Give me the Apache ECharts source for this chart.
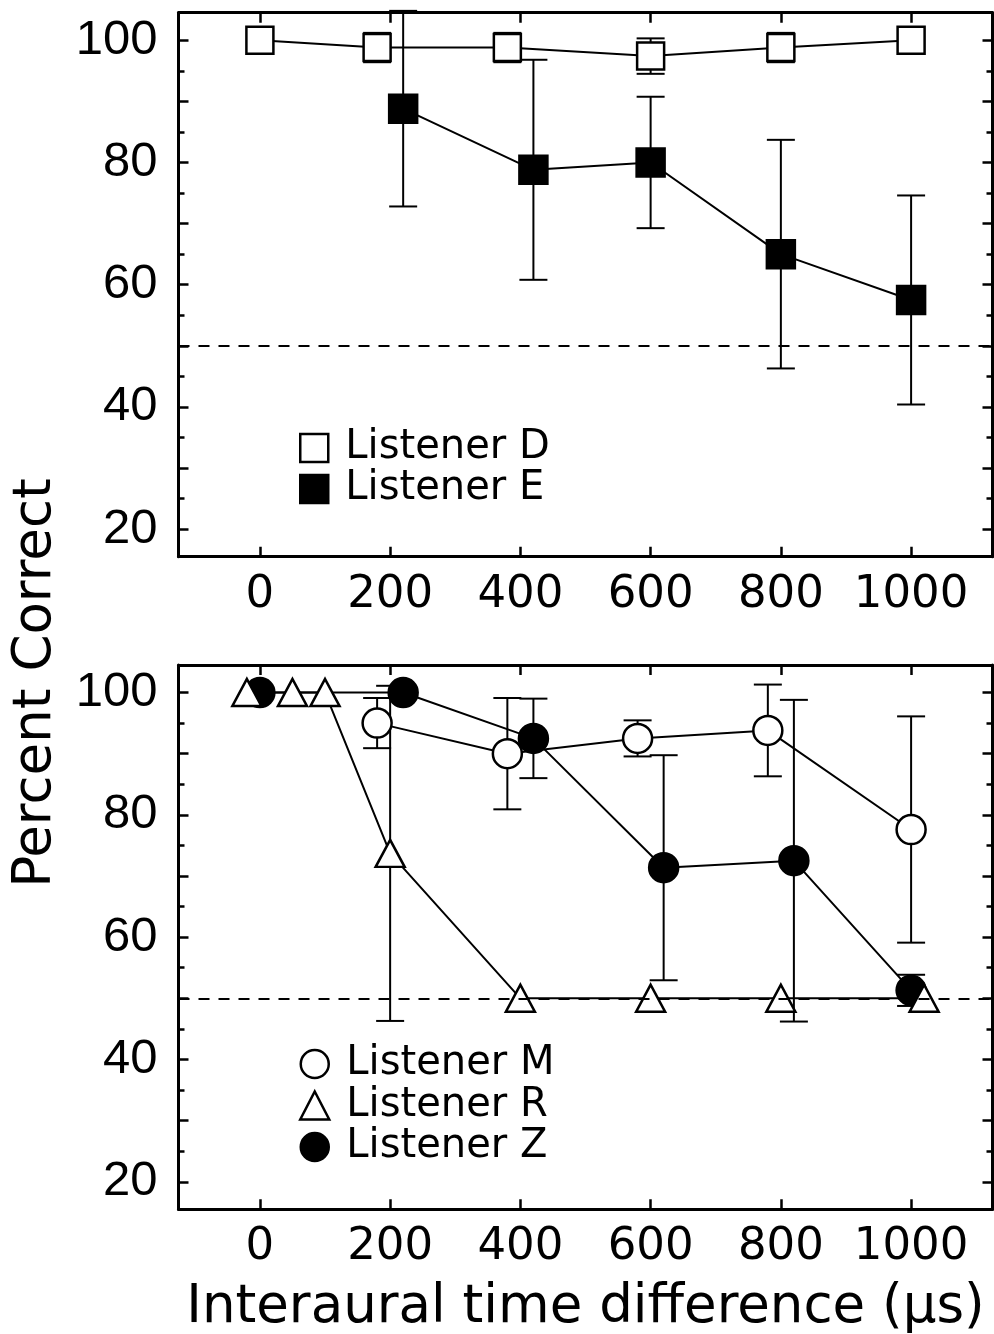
<!DOCTYPE html>
<html>
<head>
<meta charset="utf-8">
<script src="https://cdn.jsdelivr.net/npm/echarts@6/dist/echarts.min.js"></script>
<style>
  html, body { margin: 0; padding: 0; background: #fff; }
  #chart { width: 994px; height: 1334px; }
</style>
</head>
<body>
<div id="chart"></div>
<script>
// Percent correct vs. interaural time difference, mean ± error per listener.

// Upper panel
const itdD = [0, 180, 380, 600, 800, 1000];
const pctD = [100, 98.8, 98.8, 97.4, 98.8, 100];
const errD = [0, 2.4, 2.4, 2.9, 2.4, 0];

const itdE = [220, 420, 600, 800, 1000];
const pctE = [88.8, 78.8, 80, 65, 57.5];
const errE = [16, 18, 10.75, 18.7, 17.1];

// Lower panel
const itdM = [180, 380, 580, 780, 1000];
const pctM = [95, 90, 92.5, 93.8, 77.6];
const errM = [4.1, 9.1, 2.95, 7.5, 18.5];

const itdZ = [0, 220, 420, 620, 820, 1000];
const pctZ = [100, 100, 92.5, 71.35, 72.5, 51.3];
const errZ = [0, 0, 6.5, 18.4, 26.3, 2.55];

const itdR = [-20, 50, 100, 200, 400, 600, 800, 1020];
const pctR = [100, 100, 100, 73.7, 50, 50, 50, 50];
const errR = [0, 0, 0, 27.4, 0, 0, 0, 0];

// Chance performance
const CHANCE = 50;

// Axis ranges and tick positions
const X_RANGE = [-125, 1125];
const Y_RANGE = [15.5, 104.5];
const xTicks = [0, 200, 400, 600, 800, 1000];
const yMajorTicks = [20, 30, 40, 50, 60, 70, 80, 90, 100];
const yMinorTicks = [25, 35, 45, 55, 65, 75, 85, 95];
const yTickLabels = [20, 40, 60, 80, 100];

const INK = '#000';
const TEXT_FONT = 'DejaVu Sans';
const NUM_FONT_Y = "'Liberation Sans Narrow', 'Liberation Sans', sans-serif";

function pairs(xs, ys) { return xs.map((x, i) => [x, ys[i]]); }
function bars(xs, ys, es) {
  const out = [];
  xs.forEach((x, i) => { if (es[i] > 0) out.push([x, ys[i] - es[i], ys[i] + es[i]]); });
  return out;
}

function renderErrorBar(params, api) {
  const x = api.value(0);
  const lo = api.coord([x, api.value(1)]);
  const hi = api.coord([x, api.value(2)]);
  const half = 14;
  const style = { stroke: INK, lineWidth: 2, fill: null };
  return {
    type: 'group',
    children: [
      { type: 'line', shape: { x1: hi[0], y1: hi[1], x2: lo[0], y2: lo[1] }, style },
      { type: 'line', shape: { x1: hi[0] - half, y1: hi[1], x2: hi[0] + half, y2: hi[1] }, style },
      { type: 'line', shape: { x1: lo[0] - half, y1: lo[1], x2: lo[0] + half, y2: lo[1] }, style }
    ]
  };
}

const grids = [
  { left: 178.5, top: 12.7, width: 814, height: 544 },
  { left: 178.5, top: 665, width: 814, height: 544.3 }
].map(g => Object.assign(g, { show: false, containLabel: false, outerBoundsMode: 'none' }));

const tickLine = { color: INK, width: 2.5 };
const frameLine = { show: true, onZero: false, lineStyle: { color: INK, width: 3 } };
const noLine = { show: false, onZero: false };
const plainNumber = v => String(v);

function xAxesFor(g, name) {
  const base = {
    type: 'value', gridIndex: g, min: X_RANGE[0], max: X_RANGE[1],
    splitLine: { show: false }, axisLine: frameLine
  };
  const bottom = Object.assign({}, base, {
    position: 'bottom',
    axisTick: { show: true, inside: true, length: 10, customValues: xTicks, lineStyle: tickLine },
    axisLabel: {
      show: true, customValues: xTicks, formatter: plainNumber, margin: 16,
      fontSize: 45, fontFamily: TEXT_FONT, color: INK
    }
  });
  if (name) {
    Object.assign(bottom, {
      name: name, nameLocation: 'middle', nameGap: 72,
      nameTextStyle: { fontSize: 53, fontFamily: TEXT_FONT, color: INK }
    });
  }
  const top = Object.assign({}, base, {
    position: 'top',
    axisTick: { show: true, inside: true, length: 10, customValues: xTicks, lineStyle: tickLine },
    axisLabel: { show: false }
  });
  return [bottom, top];
}

function yAxesFor(g) {
  const base = {
    type: 'value', gridIndex: g, min: Y_RANGE[0], max: Y_RANGE[1],
    splitLine: { show: false }
  };
  const out = [];
  ['left', 'right'].forEach(pos => {
    out.push(Object.assign({}, base, {
      position: pos, axisLine: frameLine,
      axisTick: { show: true, inside: true, length: 10, customValues: yMajorTicks, lineStyle: tickLine },
      axisLabel: pos === 'left'
        ? {
            show: true, customValues: yTickLabels, formatter: plainNumber, margin: 21,
            fontSize: 49, fontFamily: NUM_FONT_Y, color: INK
          }
        : { show: false }
    }));
    out.push(Object.assign({}, base, {
      position: pos, axisLine: noLine,
      axisTick: { show: true, inside: true, length: 6, customValues: yMinorTicks, lineStyle: tickLine },
      axisLabel: { show: false }
    }));
  });
  return out;
}

const xAxes = xAxesFor(0, null).concat(xAxesFor(1, 'Interaural time difference (\u03bcs)'));
const yAxes = yAxesFor(0).concat(yAxesFor(1));
// indices: grid 0 -> x 0, y 0 ; grid 1 -> x 2, y 4

const openStyle = { color: '#fff', borderColor: INK, borderWidth: 2.5 };
const filledStyle = { color: INK, borderColor: INK, borderWidth: 2.5 };

function lineSeries(name, xs, ys, symbol, size, style, panel, extra) {
  return Object.assign({
    name: name, type: 'line', data: pairs(xs, ys),
    xAxisIndex: panel === 0 ? 0 : 2, yAxisIndex: panel === 0 ? 0 : 4,
    symbol: symbol, symbolSize: size, showSymbol: true, showAllSymbol: true,
    itemStyle: style, lineStyle: { color: INK, width: 2 },
    emphasis: { disabled: true }, silent: true, z: 3, clip: false
  }, extra || {});
}

function errSeries(name, xs, ys, es, panel) {
  return {
    name: name, type: 'custom', renderItem: renderErrorBar,
    data: bars(xs, ys, es), encode: { x: 0, y: [1, 2] },
    xAxisIndex: panel === 0 ? 0 : 2, yAxisIndex: panel === 0 ? 0 : 4,
    silent: true, z: 2, clip: false
  };
}

const chanceLine = {
  markLine: {
    silent: true, symbol: ['none', 'none'], animation: false,
    label: { show: false },
    lineStyle: { color: INK, width: 2, type: [11, 9] },
    data: [{ yAxis: CHANCE }]
  }
};

const series = [
  errSeries('Listener E', itdE, pctE, errE, 0),
  errSeries('Listener D', itdD, pctD, errD, 0),
  lineSeries('Listener E', itdE, pctE, 'rect', 28, filledStyle, 0, chanceLine),
  lineSeries('Listener D', itdD, pctD, 'rect', 27, openStyle, 0),

  errSeries('Listener M', itdM, pctM, errM, 1),
  errSeries('Listener Z', itdZ, pctZ, errZ, 1),
  errSeries('Listener R', itdR, pctR, errR, 1),
  lineSeries('Listener M', itdM, pctM, 'circle', 29, openStyle, 1, chanceLine),
  lineSeries('Listener Z', itdZ, pctZ, 'circle', 29, filledStyle, 1),
  lineSeries('Listener R', itdR, pctR, 'triangle', [29, 27], openStyle, 1)
];

const legendText = {
  fontSize: 40, fontFamily: TEXT_FONT, color: INK, padding: [0, 0, 0, 12]
};

const option = {
  animation: false,
  backgroundColor: '#fff',
  grid: grids,
  xAxis: xAxes,
  yAxis: yAxes,
  legend: [
    {
      left: 294, top: 423, orient: 'vertical', itemWidth: 28, itemHeight: 28, itemGap: 1,
      selectedMode: false, textStyle: legendText,
      data: [
        { name: 'Listener D', icon: 'rect', itemStyle: openStyle },
        { name: 'Listener E', icon: 'rect', itemStyle: filledStyle }
      ]
    },
    {
      left: 294, top: 1039, orient: 'vertical', itemWidth: 29, itemHeight: 28, itemGap: 1.5,
      selectedMode: false, textStyle: legendText,
      data: [
        { name: 'Listener M', icon: 'circle', itemStyle: openStyle },
        { name: 'Listener R', icon: 'triangle', itemStyle: openStyle },
        { name: 'Listener Z', icon: 'circle', itemStyle: filledStyle }
      ]
    }
  ],
  graphic: [
    {
      type: 'text', x: 36, y: 683, rotation: Math.PI / 2,
      style: {
        text: 'Percent Correct', fontSize: 53, fontFamily: TEXT_FONT, fill: INK,
        align: 'center', verticalAlign: 'middle'
      }
    }
  ],
  series: series
};

const chart = echarts.init(document.getElementById('chart'), null, { renderer: 'canvas' });
chart.setOption(option);
</script>
</body>
</html>
